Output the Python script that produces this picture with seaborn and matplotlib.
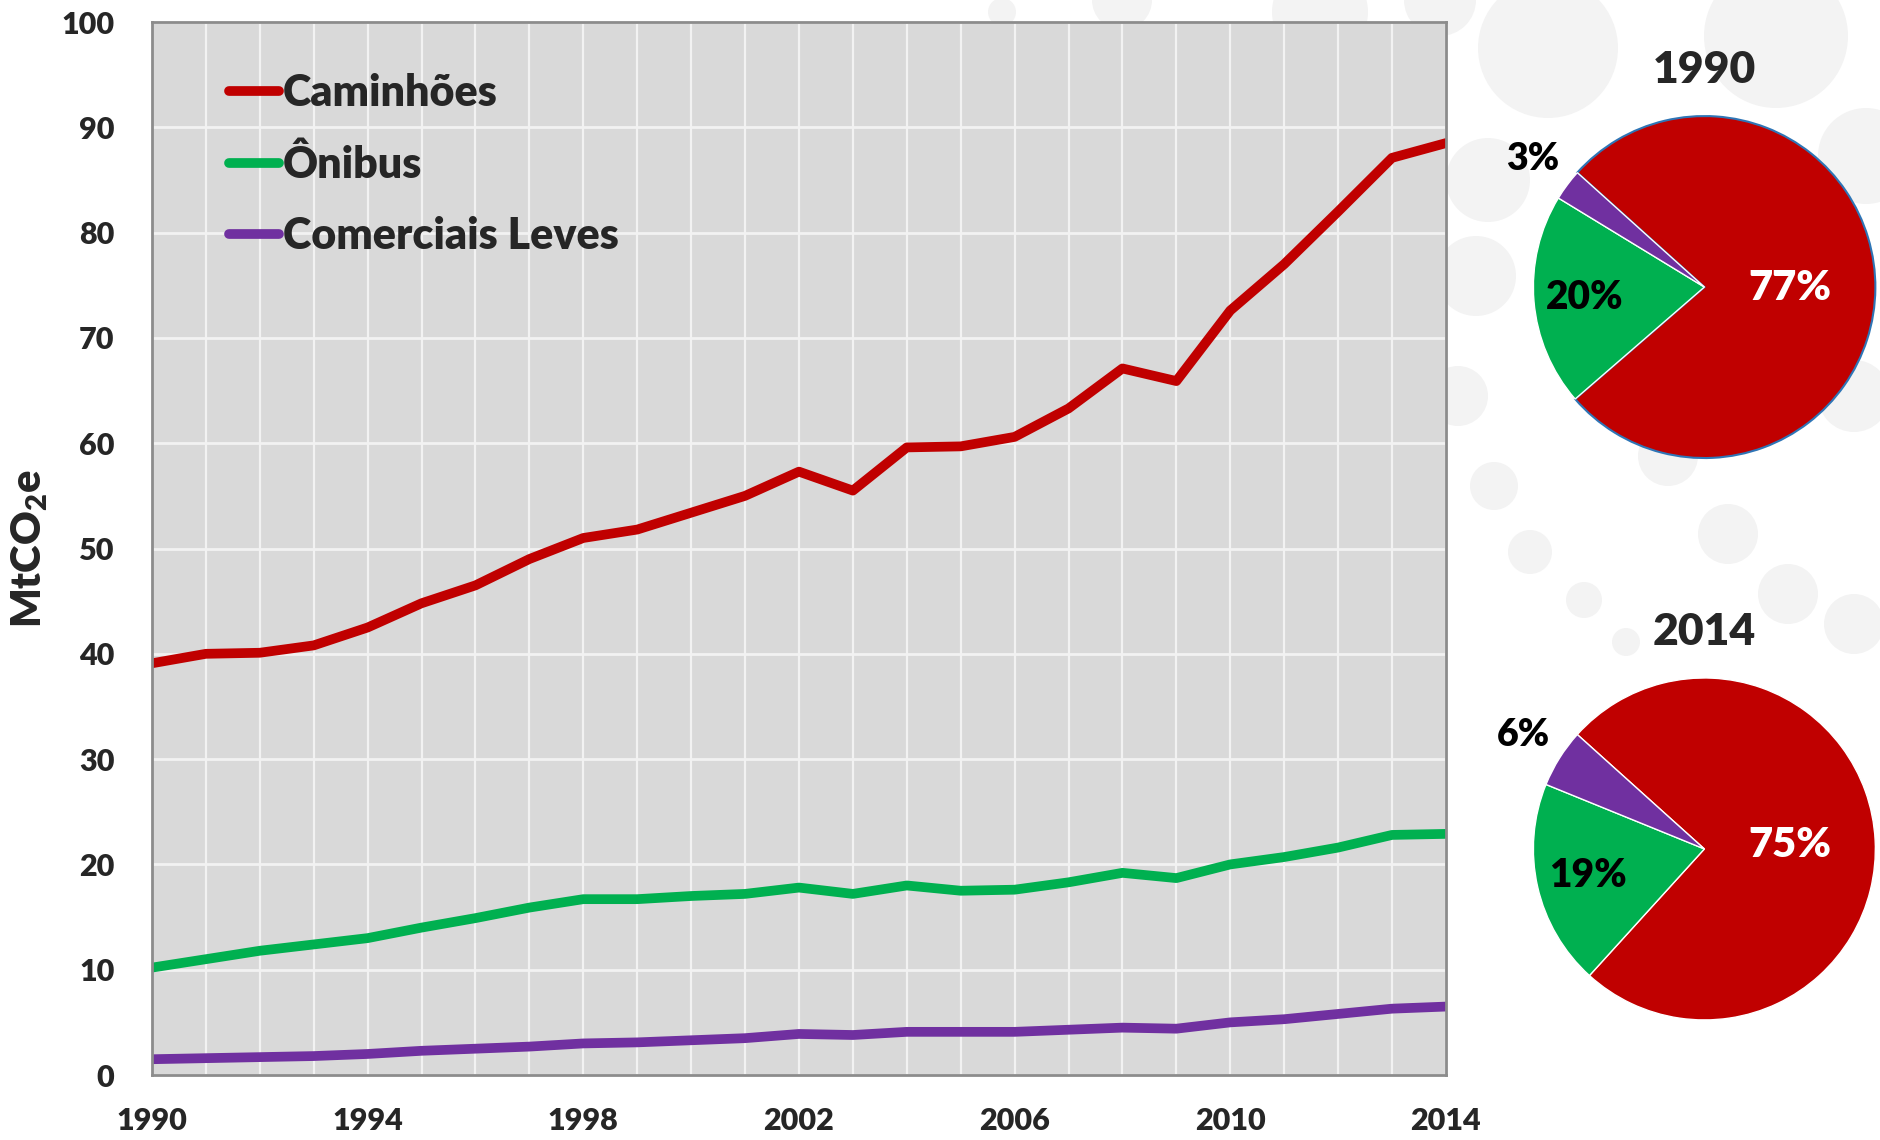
import numpy as np
import pandas as pd
import seaborn as sns
import matplotlib.pyplot as plt
from matplotlib.lines import Line2D
from matplotlib.patches import Circle

anos = list(range(1990, 2015))
caminhoes = [39.1, 40.0, 40.1, 40.8, 42.5, 44.8, 46.5, 49.0, 51.0, 51.8, 53.4, 55.0, 57.3,
             55.5, 59.6, 59.7, 60.6, 63.3, 67.1, 65.9, 72.6, 77.0, 82.0, 87.1, 88.5]
onibus = [10.2, 11.0, 11.8, 12.4, 13.0, 14.0, 14.9, 15.9, 16.7, 16.7, 17.0, 17.2, 17.8,
          17.2, 18.0, 17.5, 17.6, 18.3, 19.2, 18.7, 20.0, 20.7, 21.6, 22.8, 22.9]
comerciais = [1.5, 1.6, 1.7, 1.8, 2.0, 2.3, 2.5, 2.7, 3.0, 3.1, 3.3, 3.5, 3.9,
              3.8, 4.1, 4.1, 4.1, 4.3, 4.5, 4.4, 5.0, 5.3, 5.8, 6.3, 6.5]
categorias = ['Caminhões', 'Ônibus', 'Comerciais Leves']
cores = {'Caminhões': '#c00000', 'Ônibus': '#00b050', 'Comerciais Leves': '#7030a0'}

df = pd.DataFrame({
    'Ano': anos * 3,
    'MtCO2e': caminhoes + onibus + comerciais,
    'Categoria': [c for c in categorias for _ in anos],
})

sns.set_style('white')
plt.rcParams['font.family'] = ['Lato', 'DejaVu Sans']
plt.rcParams['font.weight'] = 'heavy'
plt.rcParams['mathtext.fontset'] = 'custom'
plt.rcParams['mathtext.rm'] = 'Lato:heavy'
plt.rcParams['mathtext.bf'] = 'Lato:heavy'

fig = plt.figure(figsize=(18.81, 11.40), dpi=100)

# fundo com circulos decorativos, em pixels
bg = fig.add_axes([0, 0, 1, 1], zorder=-10)
bg.set_xlim(0, 1881)
bg.set_ylim(1140, 0)
bg.axis('off')
bolhas = [(1002, 12, 14), (1122, 0, 30), (1320, 12, 48), (1440, 0, 36), (1548, 48, 70),
          (1776, 36, 72), (1866, 156, 48), (1488, 180, 42), (1458, 396, 30), (1494, 486, 24),
          (1530, 552, 22), (1584, 600, 18), (1626, 642, 14), (1728, 534, 30), (1788, 594, 30),
          (1854, 624, 30), (1668, 456, 30), (1854, 396, 36), (1476, 276, 40)]
for bx, by, br in bolhas:
    bg.add_patch(Circle((bx, by), br, facecolor='#f3f3f3', edgecolor='none'))

ax = fig.add_axes([0.0808, 0.0570, 0.6879, 0.9237])
ax.set_facecolor('#d9d9d9')
sns.lineplot(data=df, x='Ano', y='MtCO2e', hue='Categoria', palette=cores, linewidth=7,
             legend=False, ax=ax)
ax.set_xlim(1990, 2014)
ax.set_ylim(0, 100)
ax.set_xticks(range(1990, 2015, 4))
ax.set_xticks(anos, minor=True)
ax.set_yticks(range(0, 101, 10))
ax.grid(which='both', axis='x', color='#f2f2f2', linewidth=1.6)
ax.grid(which='major', axis='y', color='#f2f2f2', linewidth=2)
ax.set_axisbelow(True)
for s in ax.spines.values():
    s.set_color('#8c8c8c')
    s.set_linewidth(2)
ax.tick_params(axis='x', which='both', length=9, width=1.6, color='#8c8c8c', direction='out',
               pad=14, labelsize=22)
ax.tick_params(axis='y', length=7, width=1.6, color='#8c8c8c', direction='out', pad=20,
               labelsize=22)
ax.set_xlabel('')
ax.set_ylabel(r'MtCO$_{2}$e', fontsize=30, fontweight='heavy', labelpad=8)

handles = [Line2D([], [], color=cores[c], lw=7, solid_capstyle='round') for c in categorias]
ax.legend(handles, categorias, loc='upper left', bbox_to_anchor=(0.043, 0.972), frameon=False,
          handlelength=1.15, handletextpad=0.1, labelspacing=0.73, borderpad=0,
          prop={'weight': 'heavy', 'size': 31})


def torta(pos, valores, titulo, borda):
    axp = fig.add_axes(pos)
    cols = [cores[c] for c in categorias]
    wedges, _ = axp.pie(valores, colors=cols, startangle=138, counterclock=False, radius=1)
    if borda:
        wedges[0].set_edgecolor('#2e75b6')
        wedges[0].set_linewidth(1.5)
    axp.set_xlim(-1, 1)
    axp.set_ylim(-1, 1)
    axp.set_aspect('equal')
    tot = sum(valores)
    dist = [0.5, 0.7, 1.25]
    tcor = ['white', 'black', 'black']
    tam = [30, 28, 27]
    for w, v, d, tc, ts in zip(wedges, valores, dist, tcor, tam):
        ang = np.deg2rad((w.theta1 + w.theta2) / 2)
        axp.text(d * np.cos(ang), d * np.sin(ang), f'{round(v / tot * 100):.0f}%',
                 ha='center', va='center', color=tc, fontsize=ts, fontweight='heavy',
                 clip_on=False)
    axp.text(0, 1.27, titulo, ha='center', va='center', fontsize=32, fontweight='heavy',
             clip_on=False)


torta([0.8152, 0.5982, 0.1818, 0.3], [caminhoes[0], onibus[0], comerciais[0]], '1990', True)
torta([0.8152, 0.1053, 0.1818, 0.3], [caminhoes[-1], onibus[-1], comerciais[-1]], '2014', False)

fig.savefig('out.png', dpi=100)
